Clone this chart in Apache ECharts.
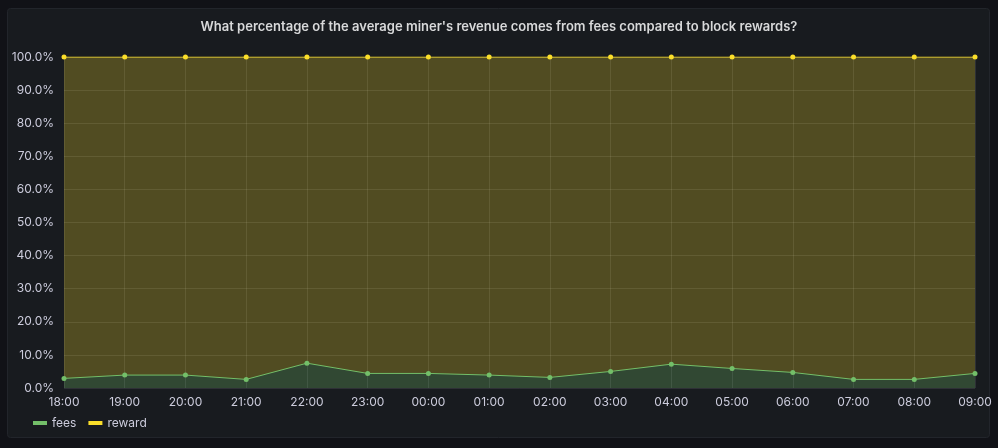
<!DOCTYPE html>
<html>
<head>
    <meta charset="utf-8">
    <title>Miner revenue: fees vs block rewards</title>
    <script src="https://cdn.jsdelivr.net/npm/echarts@6/dist/echarts.min.js"></script>
    <style>
        html, body { margin: 0; padding: 0; background: #111217; }
        #chart { width: 998px; height: 448px; }
    </style>
</head>
<body>
<div id="chart"></div>
<script type="text/javascript">
    // hours shown on the x axis
    var hours = ['18:00', '19:00', '20:00', '21:00', '22:00', '23:00', '00:00', '01:00',
                 '02:00', '03:00', '04:00', '05:00', '06:00', '07:00', '08:00', '09:00'];
    // share of revenue from fees (%)
    var fees = [2.9, 3.9, 3.9, 2.6, 7.5, 4.4, 4.4, 3.9, 3.2, 5.0, 7.2, 5.9, 4.7, 2.6, 2.6, 4.4];
    // share of revenue from block reward (%), stacked on fees
    var reward = [97.1, 96.1, 96.1, 97.4, 92.5, 95.6, 95.6, 96.1, 96.8, 95.0, 92.8, 94.1, 95.3, 97.4, 97.4, 95.6];
    var yTicks = [0, 10, 20, 30, 40, 50, 60, 70, 80, 90, 100];

    var myChart = echarts.init(document.getElementById('chart'));

    var font = 'Inter, Roboto, "Noto Sans", sans-serif';

    myChart.setOption({
        backgroundColor: '#111217',
        animation: false,
        textStyle: { fontFamily: font },
        graphic: [{
            type: 'rect',
            shape: { x: 7.5, y: 8.5, width: 982, height: 429, r: 3 },
            style: { fill: '#181b1f', stroke: '#22252b', lineWidth: 1 },
            z: -10
        }],
        title: {
            text: "What percentage of the average miner's revenue comes from fees compared to block rewards?",
            left: 'center',
            top: 16,
            textStyle: { color: '#d8d9da', fontSize: 13, fontWeight: 600, fontFamily: font }
        },
        legend: {
            left: 28,
            top: 412,
            icon: 'rect',
            itemWidth: 14,
            itemHeight: 4,
            itemGap: 12,
            textStyle: { color: '#ccccdc', fontSize: 12 },
            data: ['fees', 'reward']
        },
        grid: { left: 64, right: 23, top: 57, bottom: 60 },
        xAxis: {
            type: 'category',
            boundaryGap: false,
            data: hours,
            axisLine: { show: false },
            axisTick: { show: false },
            axisLabel: { color: '#ccccdc', fontSize: 12, margin: 8 },
            splitLine: { show: true, lineStyle: { color: 'rgba(204,204,220,0.12)', width: 1 } }
        },
        yAxis: {
            type: 'value',
            min: yTicks[0],
            max: yTicks[yTicks.length - 1],
            interval: 10,
            axisLine: { show: false },
            axisTick: { show: false },
            axisLabel: {
                color: '#ccccdc',
                fontSize: 12,
                margin: 10,
                formatter: function (v) { return v.toFixed(1) + '%'; }
            },
            splitLine: { lineStyle: { color: 'rgba(204,204,220,0.12)', width: 1 } }
        },
        series: [
            {
                name: 'fees',
                type: 'line',
                stack: 'total',
                data: fees,
                symbol: 'circle',
                symbolSize: 5,
                showAllSymbol: true,
                color: '#73bf69',
                lineStyle: { width: 1, color: '#73bf69' },
                itemStyle: { color: '#73bf69' },
                areaStyle: { color: 'rgba(115,191,105,0.28)', opacity: 1, origin: 'start' }
            },
            {
                name: 'reward',
                type: 'line',
                stack: 'total',
                data: reward,
                symbol: 'circle',
                symbolSize: 5,
                showAllSymbol: true,
                color: '#fade2a',
                lineStyle: { width: 1, color: '#fade2a' },
                itemStyle: { color: '#fade2a' },
                areaStyle: { color: 'rgba(250,222,42,0.25)', opacity: 1 }
            }
        ]
    });
</script>
</body>
</html>
